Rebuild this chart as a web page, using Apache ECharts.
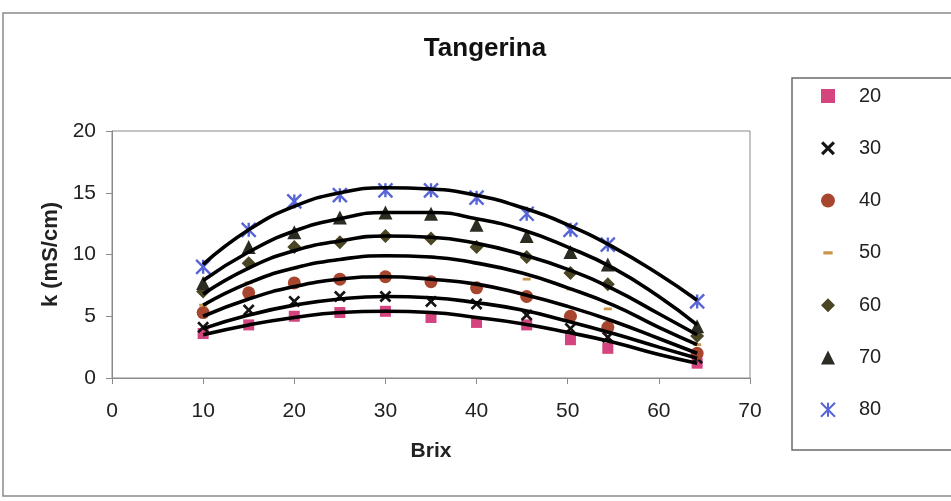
<!DOCTYPE html>
<html>
<head>
<meta charset="utf-8">
<script src="https://cdn.jsdelivr.net/npm/echarts@6/dist/echarts.min.js"></script>
<style>html,body{margin:0;padding:0;background:#fff}#c{width:951px;height:501px}</style>
</head>
<body>
<div id="c"></div>
<script>
// Brix values of the measured points (x)
var brix = [10, 15, 20, 25, 30, 35, 40, 45.5, 50.3, 54.4, 64.2];
// Conductivity k (mS/cm) per temperature (measured points)
var k20 = [3.6, 4.3, 5.0, 5.3, 5.4, 4.9, 4.5, 4.3, 3.1, 2.4, 1.2];
var k30 = [4.1, 5.5, 6.2, 6.6, 6.6, 6.2, 6.0, 5.1, 4.0, 3.3, 1.6];
var k40 = [5.3, 6.9, 7.7, 8.0, 8.2, 7.8, 7.3, 6.6, 5.0, 4.1, 2.0];
var k50 = [5.9, 7.7, 8.9, 9.6, 9.9, 9.8, 9.3, 8.0, 7.2, 5.6, 2.7];
var k60 = [7.0, 9.3, 10.6, 11.0, 11.5, 11.3, 10.6, 9.8, 8.5, 7.6, 3.4];
var k70 = [7.7, 10.6, 11.8, 13.0, 13.4, 13.3, 12.4, 11.5, 10.2, 9.2, 4.2];
var k80 = [9.0, 12.0, 14.3, 14.8, 15.2, 15.2, 14.6, 13.3, 12.0, 10.8, 6.2];
// Trend curves
var trendX = [10, 15, 20, 25, 30, 35, 40, 45, 50, 55, 60, 64.2];
var t20 = [3.5, 4.3, 4.9, 5.3, 5.4, 5.3, 4.9, 4.4, 3.7, 2.9, 1.9, 1.2];
var t30 = [4.0, 5.1, 5.9, 6.4, 6.6, 6.5, 6.1, 5.5, 4.6, 3.6, 2.5, 1.6];
var t40 = [5.0, 6.4, 7.4, 8.0, 8.2, 8.0, 7.6, 6.8, 5.8, 4.6, 3.2, 2.0];
var t50 = [5.9, 7.7, 8.9, 9.6, 9.9, 9.8, 9.3, 8.5, 7.3, 5.9, 4.1, 2.7];
var t60 = [6.8, 8.9, 10.3, 11.1, 11.5, 11.4, 10.9, 10.0, 8.8, 7.2, 5.2, 3.5];
var t70 = [7.9, 10.2, 11.9, 12.9, 13.4, 13.4, 12.9, 12.0, 10.6, 8.9, 6.6, 4.3];
var t80 = [9.2, 12.0, 13.9, 15.0, 15.4, 15.3, 14.8, 13.8, 12.4, 10.6, 8.4, 6.3];
var seriesNames = ['20', '30', '40', '50', '60', '70', '80'];
var seriesValues = [k20, k30, k40, k50, k60, k70, k80];
var trendValues = [t20, t30, t40, t50, t60, t70, t80];
var xTicks = [0, 10, 20, 30, 40, 50, 60, 70];
var yTicks = [0, 5, 10, 15, 20];

var FONT = 'Liberation Sans';
var markerStyles = [
  {symbol: 'rect', size: 11, color: '#d4457f'},
  {symbol: 'path://M0,1.6 L1.6,0 L5,3.4 L8.4,0 L10,1.6 L6.6,5 L10,8.4 L8.4,10 L5,6.6 L1.6,10 L0,8.4 L3.4,5 Z', size: 12, color: '#151515'},
  {symbol: 'circle', size: 13, color: '#a8452e'},
  {symbol: 'path://M0,0 L0,0 Z M12,12 L12,12 Z M2,4.6 L10,4.6 L10,7.4 L2,7.4 Z', size: 12, color: '#c8964a'},
  {symbol: 'diamond', size: 14, color: '#4a4522'},
  {symbol: 'triangle', size: 14, color: '#2b2d22'},
  {symbol: 'path://M0,0 L10,10 M10,0 L0,10 M5,0 L5,10', size: 14, color: '#5865d6', stroke: true}
];

function pairs(xs, ys) {
  return xs.map(function (x, i) { return [x, ys[i]]; });
}

var series = [];
seriesNames.forEach(function (name, i) {
  var m = markerStyles[i];
  var itemStyle = {color: m.color, opacity: 1};
  if (m.stroke) { itemStyle.borderColor = m.color; itemStyle.borderWidth = 2.4; }
  series.push({
    name: name,
    type: 'scatter',
    data: pairs(brix, seriesValues[i]),
    symbol: m.symbol,
    symbolSize: m.size,
    symbolKeepAspect: true,
    itemStyle: itemStyle,
    z: 2,
    silent: true
  });
  series.push({
    name: 'trend ' + name,
    type: 'line',
    data: pairs(trendX, trendValues[i]),
    smooth: true,
    showSymbol: false,
    lineStyle: {color: '#000', width: 3.6},
    z: 3,
    silent: true
  });
});

var chart = echarts.init(document.getElementById('c'), null, {renderer: 'canvas'});
chart.setOption({
  animation: false,
  backgroundColor: '#fff',
  title: {
    text: 'Tangerina',
    left: 480,
    top: 31,
    textAlign: 'center',
    textStyle: {fontFamily: FONT, fontSize: 26, fontWeight: 'bold', color: '#111'}
  },
  graphic: [
    {type: 'rect', shape: {x: 3, y: 13, width: 960, height: 483}, style: {fill: 'none', stroke: '#8a8a8a', lineWidth: 1.5}, z: -10},
    {type: 'rect', shape: {x: 792, y: 78, width: 170, height: 372}, style: {fill: 'none', stroke: '#6a6a6a', lineWidth: 1.5}, z: -10}
  ],
  legend: {
    data: seriesNames,
    orient: 'vertical',
    left: 820,
    top: 86,
    padding: 0,
    itemWidth: 14,
    itemHeight: 14,
    itemGap: 32.3,
    selectedMode: false,
    textStyle: {fontFamily: FONT, fontSize: 20, lineHeight: 20, color: '#222', padding: [0, 0, 0, 19]}
  },
  grid: {
    left: 112, top: 131, right: 201, bottom: 123,
    show: true, borderColor: '#8a8a8a', borderWidth: 1, backgroundColor: '#fff'
  },
  xAxis: {
    type: 'value',
    min: xTicks[0], max: xTicks[xTicks.length - 1], interval: 10,
    name: 'Brix', nameLocation: 'middle', nameGap: 63,
    nameTextStyle: {fontFamily: FONT, fontSize: 21, fontWeight: 'bold', color: '#222'},
    axisLine: {show: true, lineStyle: {color: '#8a8a8a', width: 1}},
    axisTick: {show: true, length: 6, lineStyle: {color: '#8a8a8a'}},
    axisLabel: {fontFamily: FONT, fontSize: 21, color: '#222', margin: 23},
    splitLine: {show: false}
  },
  yAxis: {
    type: 'value',
    min: yTicks[0], max: yTicks[yTicks.length - 1], interval: 5,
    name: 'k (mS/cm)', nameLocation: 'middle', nameGap: 46, nameRotate: 90,
    nameTextStyle: {fontFamily: FONT, fontSize: 22, fontWeight: 'bold', color: '#222'},
    axisLine: {show: true, lineStyle: {color: '#8a8a8a', width: 1}},
    axisTick: {show: true, length: 6, lineStyle: {color: '#8a8a8a'}},
    axisLabel: {fontFamily: FONT, fontSize: 21, color: '#222', margin: 16},
    splitLine: {show: false}
  },
  series: series
});
</script>
</body>
</html>
